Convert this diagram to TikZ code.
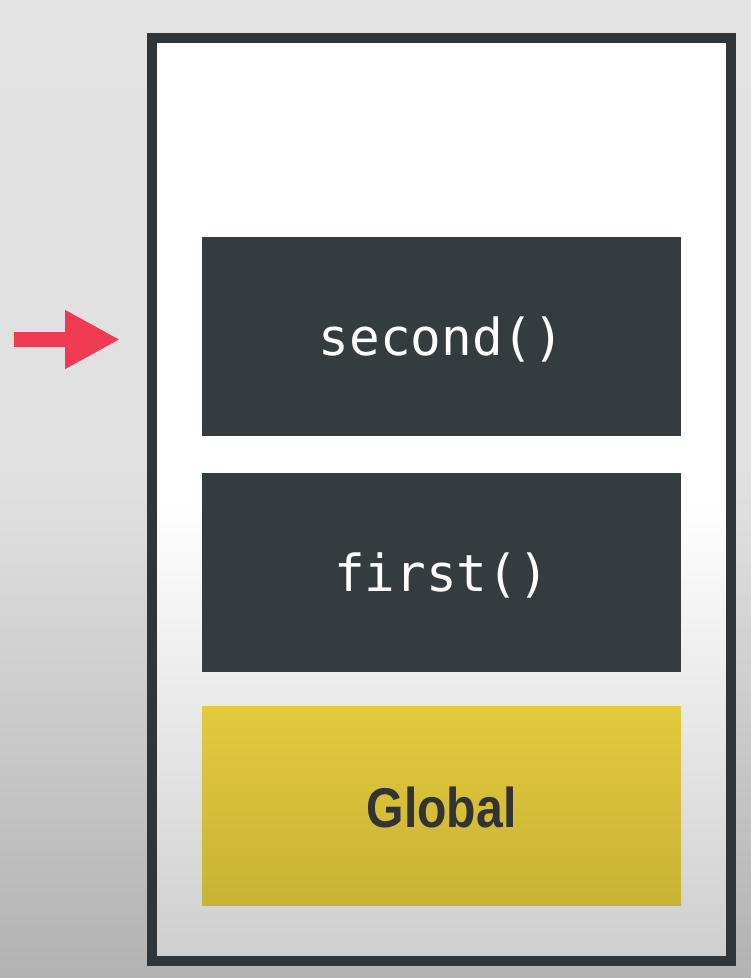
\documentclass[tikz,border=0pt]{standalone}
\usepackage{fontspec}
\usetikzlibrary{arrows.meta,positioning}

\newfontfamily\codefont{DejaVu Sans Mono}
\newfontfamily\labelfont{Liberation Sans}

\definecolor{slate}{HTML}{343C40}
\definecolor{framegray}{HTML}{2F3538}
\definecolor{pointred}{HTML}{EF3A52}
\definecolor{globaltop}{HTML}{E3C93D}
\definecolor{globalbot}{HTML}{C9B334}
\definecolor{labeldark}{HTML}{333333}

\tikzset{
  stackframe/.style={draw=framegray, line width=10pt, minimum width=579pt,
    minimum height=923pt, inner sep=0pt,
    top color=white, bottom color=black!19, middle color=white},
  callbox/.style={fill=slate, minimum width=479pt, minimum height=199pt,
    inner sep=0pt, text=white, font=\codefont\fontsize{51}{51}\selectfont,
    text height=38pt, text depth=0pt},
  globalbox/.style={top color=globaltop, bottom color=globalbot,
    minimum width=479pt, minimum height=199pt, inner sep=0pt,
    text=labeldark, font=\labelfont\bfseries\fontsize{56}{56}\selectfont,
    text height=42pt, text depth=0pt},
  pointer/.style={draw=pointred, line width=15pt,
    -{Triangle[length=55pt,width=55pt,fill=pointred]}}
}

\begin{document}
\begin{tikzpicture}[x=1pt,y=-1pt]
\useasboundingbox (0,0) rectangle (751,978);

% background
\shade[top color=black!11, bottom color=black!30, middle color=black!12]
  (0,0) rectangle (751,978);

% call stack frame
\node[stackframe] (stack) at (441.5,499) {};

% draw stack entries
\node[callbox] (second) at (441.5,336.5) {second()};
\node[callbox, below=37pt of second] (first) {first()};
\node[globalbox, below=34pt of first] (global) {\scalebox{0.86}[1]{Global}};

% draw pointer
\coordinate (arrowtail) at (14,339.5);
\coordinate (arrowtip) at (120,339.5);
\draw[pointer] (arrowtail) -- (arrowtip);

\end{tikzpicture}
\end{document}
